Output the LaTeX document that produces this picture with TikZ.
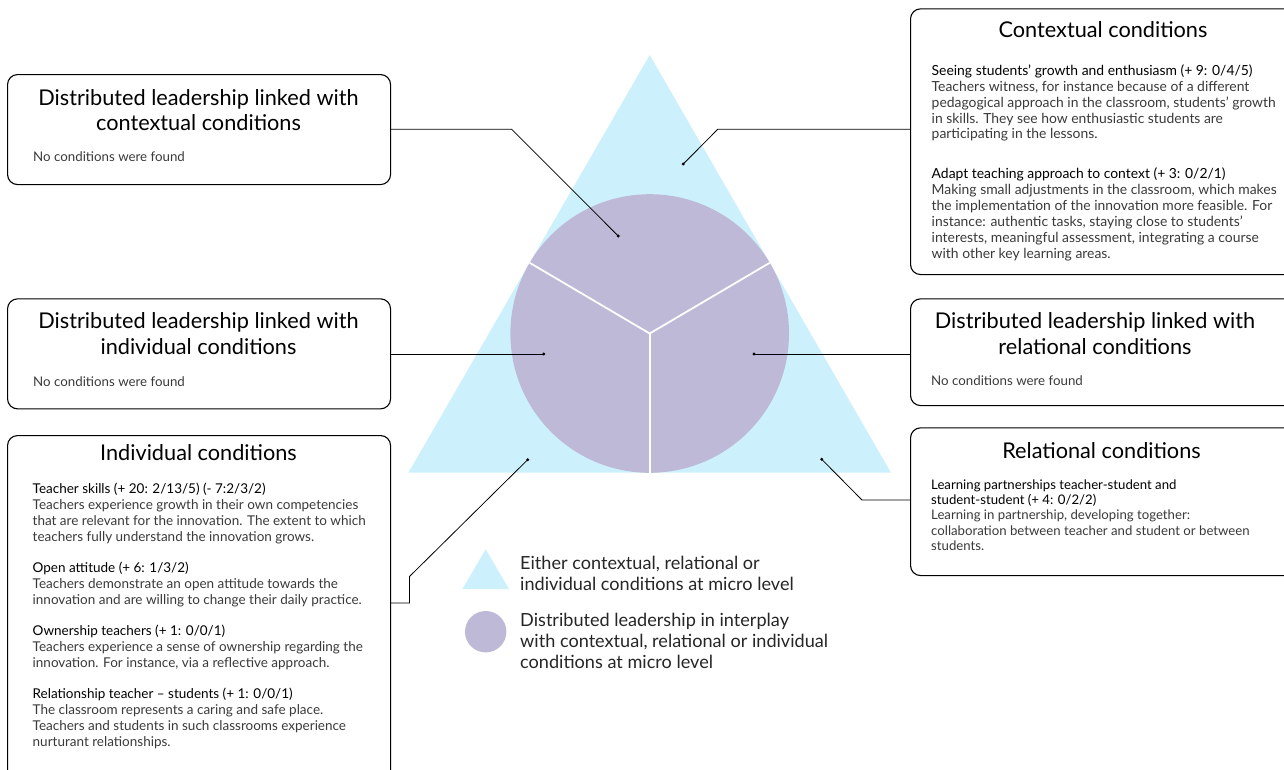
\documentclass[tikz,border=0pt]{standalone}
\usepackage{fontspec}
\setmainfont{Lato}
\definecolor{tri}{HTML}{CCF0FC}
\definecolor{circ}{HTML}{BEB9D7}
\definecolor{desc}{HTML}{3A3A3A}
\newcommand{\headf}{\fontsize{21.7}{25.5}\selectfont}
\newcommand{\bodyf}{\fontsize{13.3}{16}\selectfont}
\newcommand{\hd}[1]{\textcolor{black}{#1}}
\begin{document}
\begin{tikzpicture}[x=1pt,y=-1pt,
  box/.style={draw=black, line width=1.1pt, rounded corners=10pt, anchor=north west, inner sep=0, fill=white},
  title/.style={anchor=base, inner sep=0, font=\headf},
  body/.style={anchor=base west, inner sep=0, font=\bodyf, text=desc},
  conn/.style={draw=black, line width=0.8pt},
  dot/.style={circle, fill=black, inner sep=0, minimum size=3.2pt},
  legend/.style={anchor=base west, inner sep=0, text=black!85}]
\useasboundingbox (0,0) rectangle (1284,769);
\clip (0,0) rectangle (1284,769);
\fill[white] (0,0) rectangle (1284,769);

% central figure
\fill[tri] (649.7,55) coordinate (apex) -- (891,472.7) -- (408.4,472.7) -- cycle;
\fill[circ] (649.7,333.5) coordinate (cc) circle (139.3);
\draw[white, line width=1.8pt] (cc) -- ++(0,139.3);
\draw[white, line width=1.8pt] (cc) -- ++(-149.5:139.3);
\draw[white, line width=1.8pt] (cc) -- ++(-30.5:139.3);

% boxes
\node[box, minimum width=383pt, minimum height=110pt] (b1) at (7,74) {};
\node[box, minimum width=383pt, minimum height=110pt] (b2) at (7,298.3) {};
\node[box, minimum width=383pt, minimum height=360pt] (b3) at (7,435) {};
\node[box, minimum width=385pt, minimum height=265.7pt] (b4) at (910,8.3) {};
\node[box, minimum width=385pt, minimum height=106.7pt] (b5) at (910,298.3) {};
\node[box, minimum width=385pt, minimum height=147.7pt] (b6) at (910,427.3) {};

% titles
\node[title] (t1) at (198.5,105) {\parbox[t]{380pt}{\centering Distributed leadership linked with\\contextual conditions}};
\node[title] (t2) at (198.5,328.5) {\parbox[t]{380pt}{\centering Distributed leadership linked with\\individual conditions}};
\node[title] (t3) at (198.5,460) {Individual conditions};
\node[title] (t4) at (1103,37) {Contextual conditions};
\node[title] (t5) at (1095,328.5) {\parbox[t]{380pt}{\centering Distributed leadership linked with\\relational conditions}};
\node[title] (t6) at (1101.5,458.5) {Relational conditions};

% bodies
\node[body] (x1) at (33,161) {No conditions were found};
\node[body] (x2) at (33,386) {No conditions were found};
\node[body] (x5) at (931,385) {No conditions were found};

\node[body] (x3) at (32.5,493) {\parbox[t]{370pt}{\raggedright\fontsize{13.5}{16}\selectfont
\hd{Teacher skills (+ 20: 2/13/5) (- 7:2/3/2)}\\
Teachers experience growth in their own competencies\\
that are relevant for the innovation. The extent to which\\
teachers fully understand the innovation grows.\\[15pt]
\hd{Open attitude (+ 6: 1/3/2)}\\
Teachers demonstrate an open attitude towards the\\
innovation and are willing to change their daily practice.\\[15pt]
\hd{Ownership teachers (+ 1: 0/0/1)}\\
Teachers experience a sense of ownership regarding the\\
innovation. For instance, via a reflective approach.\\[15pt]
\hd{Relationship teacher -- students (+ 1: 0/0/1)}\\
The classroom represents a caring and safe place.\\
Teachers and students in such classrooms experience\\
nurturant relationships.}};

\node[body] (x4) at (931.5,75.5) {\parbox[t]{370pt}{\raggedright\fontsize{13.9}{15.85}\selectfont
\hd{Seeing students’ growth and enthusiasm (+ 9: 0/4/5)}\\
Teachers witness, for instance because of a different\\
pedagogical approach in the classroom, students’ growth\\
in skills. They see how enthusiastic students are\\
participating in the lessons.\\[24pt]
\hd{Adapt teaching approach to context (+ 3: 0/2/1)}\\
Making small adjustments in the classroom, which makes\\
the implementation of the innovation more feasible. For\\
instance: authentic tasks, staying close to students’\\
interests, meaningful assessment, integrating a course\\
with other key learning areas.}};

\node[body] (x6) at (931,489) {\parbox[t]{370pt}{\raggedright\fontsize{13.2}{15.4}\selectfont
\hd{Learning partnerships teacher-student and}\\
\hd{student-student (+ 4: 0/2/2)}\\
Learning in partnership, developing together:\\
collaboration between teacher and student or between\\
students.}};

% dots and connectors
\node[dot] (d1) at (618.3,236) {};
\node[dot] (d2) at (543.7,354) {};
\node[dot] (d3) at (527.7,459.7) {};
\node[dot] (d4) at (683.3,164) {};
\node[dot] (d5) at (754,354) {};
\node[dot] (d6) at (821.7,459.3) {};
\coordinate (k1) at (511.7,129.3);
\coordinate (k3a) at (409.5,576.5);
\coordinate (k3b) at (409.5,603);
\coordinate (k4) at (717.7,129.3);
\coordinate (k6) at (862,500);
\draw[conn] (d1.center) -- (k1) -- (b1.east |- k1);
\draw[conn] (d2.center) -- (b2.east |- d2);
\draw[conn] (d3.center) -- (k3a) -- (k3b) -- (b3.east |- k3b);
\draw[conn] (d4.center) -- (k4) -- (b4.west |- k4);
\draw[conn] (d5.center) -- (b5.west |- d5);
\draw[conn] (d6.center) -- (k6) -- (b6.west |- k6);

% legend
\fill[tri] (485.7,549.3) coordinate (lt) -- (509,589) -- (462.4,589) -- cycle;
\fill[circ] (485.7,631.7) coordinate (lc) circle (20.7);
\node[legend] (l1) at (520,569.3) {\parbox[t]{340pt}{\fontsize{18.1}{21}\selectfont Either contextual, relational or\\individual conditions at micro level}};
\node[legend] (l2) at (520,626.5) {\parbox[t]{340pt}{\fontsize{18.1}{21.2}\selectfont Distributed leadership in interplay\\with contextual, relational or individual\\conditions at micro level}};
\end{tikzpicture}
\end{document}
